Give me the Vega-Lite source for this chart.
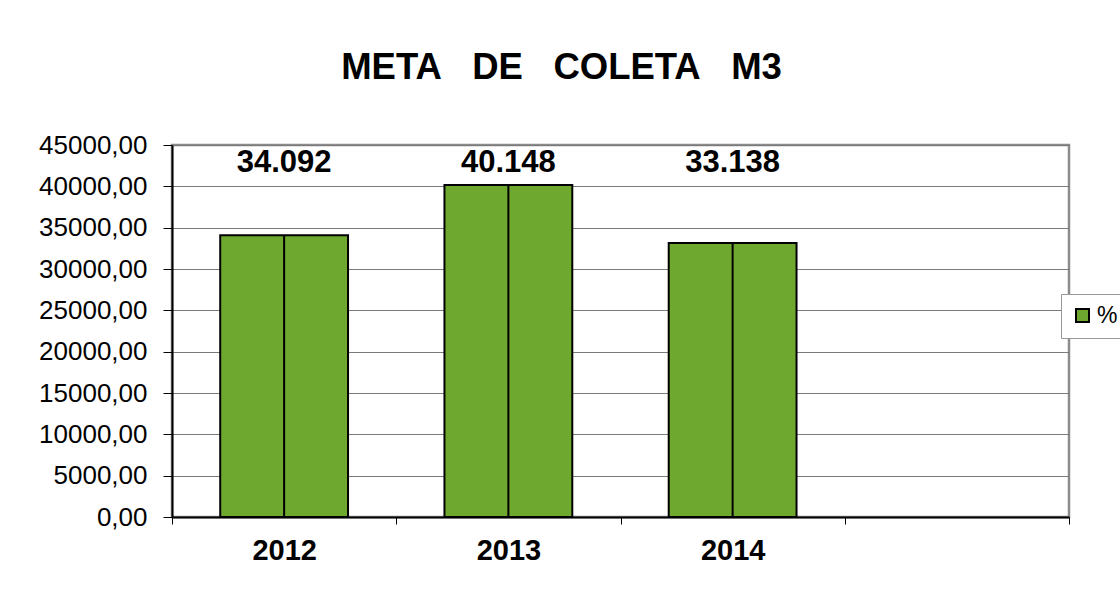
{
  "$schema": "https://vega.github.io/schema/vega-lite/v6.json",
  "autosize": "none",
  "width": 897,
  "height": 372,
  "padding": {"left": 172, "top": 145, "right": 51, "bottom": 72},
  "background": "white",
  "title": {
    "text": "META\u00a0\u00a0\u00a0DE\u00a0\u00a0\u00a0COLETA\u00a0\u00a0\u00a0M3",
    "font": "Liberation Sans",
    "fontSize": 36.5,
    "fontWeight": "bold",
    "color": "black",
    "anchor": "middle",
    "frame": "group",
    "dx": -59,
    "baseline": "alphabetic",
    "offset": 17
  },
  "data": {
    "values": [
      {"year": "2012", "value": 34092, "label": "34.092", "series": "%"},
      {"year": "2013", "value": 40148, "label": "40.148", "series": "%"},
      {"year": "2014", "value": 33138, "label": "33.138", "series": "%"}
    ]
  },
  "encoding": {
    "x": {
      "field": "year",
      "type": "nominal",
      "scale": {"domain": ["2012", "2013", "2014", " "], "paddingInner": 0, "paddingOuter": 0},
      "axis": {
        "title": null,
        "labelAngle": 0,
        "labelFont": "Liberation Sans",
        "labelFontSize": 29,
        "labelFontWeight": "bold",
        "labelColor": "black",
        "labelPadding": 12,
        "tickBand": "extent",
        "tickSize": 7,
        "tickColor": "black",
        "tickWidth": 1,
        "domainColor": "black",
        "domainWidth": 2,
        "grid": false
      }
    }
  },
  "layer": [
    {
      "mark": {"type": "bar", "stroke": "black", "strokeWidth": 2, "width": {"band": 0.57}},
      "encoding": {
        "y": {
          "field": "value",
          "type": "quantitative",
          "scale": {"domain": [0, 45000], "nice": false},
          "axis": {
            "title": null,
            "values": [0, 5000, 10000, 15000, 20000, 25000, 30000, 35000, 40000, 45000],
            "labelExpr": "replace(format(datum.value, '.2f'), '.', ',')",
            "labelFont": "Liberation Sans",
            "labelFontSize": 26,
            "labelColor": "black",
            "labelPadding": 16,
            "tickSize": 9,
            "tickColor": "black",
            "tickWidth": 1,
            "domainColor": "black",
            "domainWidth": 2,
            "grid": true,
            "gridColor": "#7a7a7a",
            "gridWidth": 1.2
          }
        },
        "color": {
          "field": "series",
          "type": "nominal",
          "scale": {"range": ["#6EA82E"]},
          "legend": {
            "title": null,
            "orient": "none",
            "legendX": 889,
            "legendY": 149,
            "padding": 10,
            "strokeColor": "#999999",
            "fillColor": "white",
            "symbolType": "square",
            "symbolSize": 169,
            "symbolStrokeColor": "black",
            "symbolStrokeWidth": 2,
            "labelFont": "Liberation Sans",
            "labelFontSize": 23,
            "labelColor": "black",
            "labelOffset": 3
          }
        }
      }
    },
    {
      "mark": {"type": "rule", "color": "black", "strokeWidth": 2},
      "encoding": {
        "y": {"field": "value", "type": "quantitative"},
        "y2": {"datum": 0}
      }
    },
    {
      "mark": {
        "type": "text",
        "font": "Liberation Sans",
        "fontSize": 31,
        "fontWeight": "bold",
        "color": "black",
        "baseline": "alphabetic",
        "align": "center"
      },
      "encoding": {
        "y": {"datum": 41700, "type": "quantitative"},
        "text": {"field": "label"}
      }
    }
  ],
  "config": {
    "view": {"stroke": "#8c8c8c", "strokeWidth": 2.5}
  }
}
